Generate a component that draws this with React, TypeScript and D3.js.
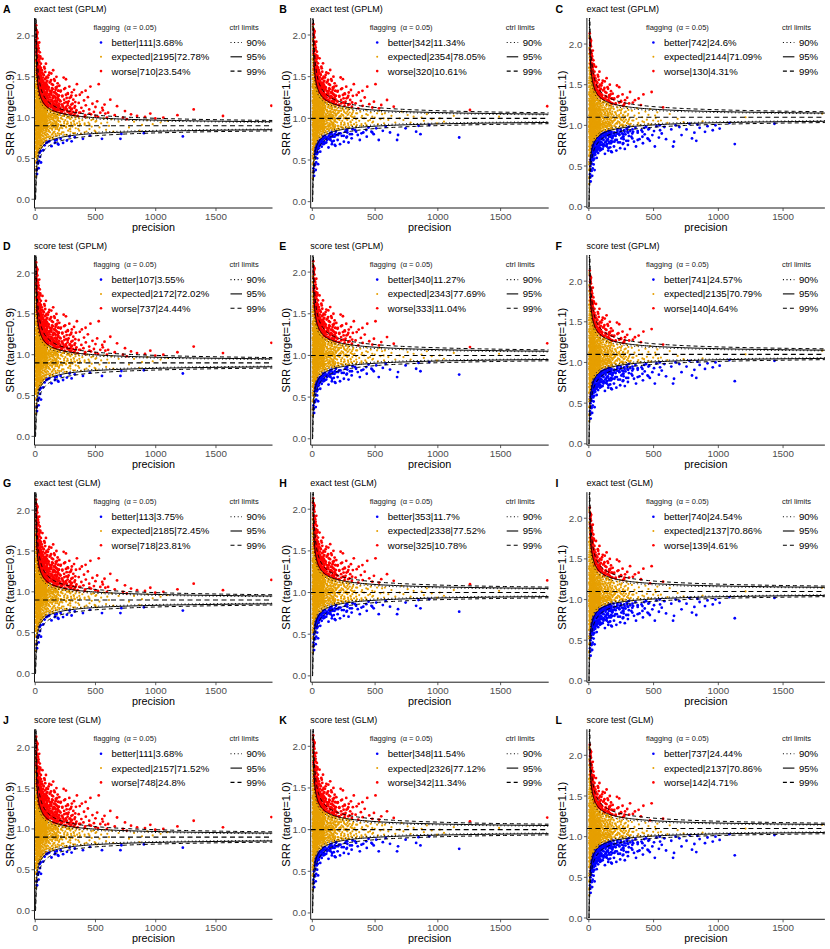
import React from "react";
import * as d3 from "d3";

const W = 830;
const H = 949;
const FONT = "'Liberation Sans', Arial, Helvetica, sans-serif";

// ---------- labels / panel meta ----------
const panelLetters = ["A", "B", "C", "D", "E", "F", "G", "H", "I", "J", "K", "L"];
const rowTitles = ["exact test (GPLM)", "score test (GPLM)", "exact test (GLM)", "score test (GLM)"];
const targets = [0.9, 1.0, 1.1];
const yTitles = ["SRR (target=0.9)", "SRR (target=1.0)", "SRR (target=1.1)"];
const precisionScale = [1, 0.955, 0.92];
const xDomains = [[-6, 1969], [-13, 1883], [-15, 1823]];
const yDomains = [[-0.107, 2.22], [-0.076, 2.204], [-0.016, 2.32]];
const xTicks = [0, 500, 1000, 1500];
const yTicks = [0, 0.5, 1, 1.5, 2];
const rowDispersion = [1.1, 1.1, 1.08, 1.08];

const legendBetter = [
  "better|111|3.68%", "better|342|11.34%", "better|742|24.6%",
  "better|107|3.55%", "better|340|11.27%", "better|741|24.57%",
  "better|113|3.75%", "better|353|11.7%", "better|740|24.54%",
  "better|111|3.68%", "better|348|11.54%", "better|737|24.44%",
];
const legendExpected = [
  "expected|2195|72.78%", "expected|2354|78.05%", "expected|2144|71.09%",
  "expected|2172|72.02%", "expected|2343|77.69%", "expected|2135|70.79%",
  "expected|2185|72.45%", "expected|2338|77.52%", "expected|2137|70.86%",
  "expected|2157|71.52%", "expected|2326|77.12%", "expected|2137|70.86%",
];
const legendWorse = [
  "worse|710|23.54%", "worse|320|10.61%", "worse|130|4.31%",
  "worse|737|24.44%", "worse|333|11.04%", "worse|140|4.64%",
  "worse|718|23.81%", "worse|325|10.78%", "worse|139|4.61%",
  "worse|748|24.8%", "worse|342|11.34%", "worse|142|4.71%",
];
const ctrlLabels = ["90%", "95%", "99%"];
const ctrlZ = [1.645, 1.96, 2.576];

// ---------- data: precision (target 0.9 scale) and SRR ----------
const precisionUnder20: [number, number[]][] = [
  [1.5, [0.35, 0.98, 1.52]],
  [2, [0.45, 1.38, 0.92, 1.71]],
  [2.5, [0.74, 1.21]],
  [2.8, [0.55, 1.04, 1.47, 1.88]],
  [3, [0.63, 1.12, 1.55, 0.28, 0.99]],
  [3.5, [1.33, 0.86]],
  [3.8, [0.7, 1.2, 0.95, 1.76]],
  [4, [0.81, 1.41, 1.95, 0.52, 1.08]],
  [4.5, [0.62, 1.0, 1.3, 1.58, 2.1]],
  [5, [0.69, 1.26, 0.93, 1.67, 0.37, 1.18]],
  [5.5, [0.52, 1.05, 1.4]],
  [5.8, [0.79, 1.13, 0.45, 1.7]],
  [6, [1.02, 0.58, 1.49, 2.08, 0.84, 1.31]],
  [6.5, [0.9, 1.63]],
  [6.8, [0.66, 1.07, 1.38, 1.95]],
  [7, [0.76, 1.15, 1.83, 0.47, 0.98, 1.6]],
  [7.5, [1.25, 0.64, 1.92]],
  [7.8, [0.85, 1.19, 0.55, 1.52]],
  [8, [1.22, 0.89, 0.62, 1.44, 2.13, 1.05]],
  [8.5, [0.78, 1.37]],
  [8.8, [0.73, 1.01, 1.29, 1.86]],
  [9, [0.95, 1.36, 0.71, 1.73, 1.1, 0.53]],
  [9.5, [1.16, 0.88, 1.58]],
  [9.8, [0.64, 0.94, 1.22, 1.65, 2.07]],
  [10, [1.28, 0.83, 1.52, 1.0, 0.4, 1.93]],
  [10.5, [0.57, 1.11, 1.81]],
  [10.8, [0.8, 1.08, 1.36, 1.59]],
  [11, [0.9, 1.19, 0.66, 1.41, 1.06, 1.78]],
  [11.5, [0.97, 1.48]],
  [11.8, [0.69, 0.99, 1.26, 1.7, 1.99]],
  [12, [1.13, 0.77, 1.6, 0.95, 2.0, 0.36]],
  [12.5, [0.82, 1.29]],
  [12.8, [0.74, 1.04, 1.16, 1.53]],
  [13, [0.86, 1.24, 1.03, 1.47, 0.6, 1.69]],
  [13.5, [1.18, 0.93, 2.02]],
  [13.8, [0.65, 0.91, 1.21, 1.42, 1.8]],
  [14, [1.09, 0.72, 1.33, 0.97, 1.88, 0.5]],
  [14.5, [0.7, 1.55]],
  [14.8, [0.83, 1.02, 1.3, 1.62]],
  [15, [1.17, 0.88, 1.56, 1.01, 0.31, 1.38]],
  [15.5, [1.06, 1.26]],
  [15.8, [0.58, 0.96, 1.14, 1.48, 1.91]],
  [16, [0.94, 1.27, 0.68, 1.12, 1.75, 2.05]],
  [16.5, [0.79, 1.36]],
  [16.8, [0.75, 1.09, 1.33, 1.58]],
  [17, [1.04, 0.81, 1.45, 0.56, 1.2, 1.64]],
  [17.5, [0.99, 1.9]],
  [17.8, [0.67, 0.9, 1.17, 1.41, 1.77]],
  [18, [0.92, 1.35, 1.07, 0.74, 1.97, 1.52]],
  [18.5, [0.61, 1.14]],
  [18.8, [0.8, 1.03, 1.25, 1.6, 2.04]],
  [19, [1.15, 0.86, 1.3, 0.45, 1.01, 1.84]],
  [19.5, [1.24, 0.89]],
  [19.8, [0.71, 0.95, 1.12, 1.37, 1.55]],
  [20, [0.98, 1.23, 0.63, 1.42, 1.09, 1.71]],
];

const groups20to60: [number, number[]][] = [
  [21.5, [0.74, 0.98, 1.19, 1.5, 1.66]],
  [22.5, [0.57, 0.85, 1.03, 1.27, 1.56]],
  [23.5, [0.69, 0.92, 1.08, 1.33, 1.74]],
  [25.5, [0.8, 1.0, 1.23, 1.41, 1.59]],
  [26.5, [0.6, 0.83, 1.06, 1.22, 1.68]],
  [27.5, [0.62, 0.87, 1.12, 1.29, 1.85]],
  [29.5, [0.77, 0.97, 1.16, 1.38, 1.62]],
  [30.5, [0.64, 0.89, 1.02, 1.18, 1.51]],
  [31.5, [0.7, 0.9, 1.07, 1.26, 1.47]],
  [33.5, [0.82, 1.03, 1.2, 1.4, 1.71]],
  [34.5, [0.59, 0.86, 1.0, 1.24, 1.45]],
  [35.5, [0.66, 0.94, 1.13, 1.32, 1.54]],
  [37.5, [0.78, 0.99, 1.18, 1.35, 1.63]],
  [38.5, [0.67, 0.9, 1.05, 1.21, 1.58]],
  [39.5, [0.72, 0.91, 1.1, 1.28, 1.46]],
  [41.5, [0.81, 1.02, 1.22, 1.39, 1.75]],
  [42.5, [0.63, 0.84, 0.98, 1.17, 1.41]],
  [43.5, [0.68, 0.95, 1.15, 1.3, 1.52]],
  [45.5, [0.76, 0.93, 1.06, 1.27, 1.44]],
  [46.5, [0.69, 0.88, 1.04, 1.23, 1.5]],
  [47.5, [0.84, 1.0, 1.19, 1.34, 1.61]],
  [49.5, [0.73, 0.88, 1.11, 1.25, 1.48]],
  [51.5, [0.66, 0.86, 0.99, 1.15, 1.37]],
  [52.5, [0.79, 0.97, 1.14, 1.3, 1.43]],
  [55.5, [0.72, 0.9, 1.05, 1.24, 1.39]],
  [57.5, [0.7, 0.91, 1.03, 1.2, 1.46]],
  [58.5, [0.83, 1.01, 1.17, 1.33, 1.55]],
];

const groups60to500: [number, number[]][] = [
  [62.5, [0.86, 1.08, 1.26, 1.45]],
  [64.5, [0.68, 0.85, 0.97, 1.13, 1.34]],
  [66.5, [0.77, 0.99, 1.2, 1.37]],
  [70.5, [0.9, 1.13, 1.31, 1.52]],
  [72.5, [0.73, 0.9, 1.02, 1.18, 1.4]],
  [74.5, [0.81, 1.04, 1.23, 1.41]],
  [78.5, [0.88, 1.1, 1.28, 1.6]],
  [80.5, [0.71, 0.87, 0.99, 1.12, 1.31]],
  [82.5, [0.79, 0.98, 1.19, 1.36]],
  [86.5, [0.92, 1.12, 1.3, 1.48]],
  [88.5, [0.75, 0.92, 1.04, 1.16, 1.42]],
  [90.5, [0.84, 1.03, 1.21, 1.39]],
  [94.5, [0.89, 1.09, 1.26, 1.44]],
  [96.5, [0.72, 0.86, 0.96, 1.09, 1.3]],
  [98.5, [0.8, 1.0, 1.17, 1.34]],
  [105.5, [0.9, 1.12, 1.27, 1.49]],
  [108.5, [0.76, 0.89, 1.01, 1.14, 1.35]],
  [112.5, [0.83, 1.05, 1.22, 1.37]],
  [119.5, [0.94, 1.1, 1.25, 1.43]],
  [122.5, [0.74, 0.87, 0.98, 1.1, 1.29]],
  [126.5, [0.87, 1.03, 1.19, 1.32]],
  [133.5, [0.91, 1.14, 1.28, 1.54]],
  [137.5, [0.79, 0.9, 1.03, 1.15, 1.33]],
  [140.5, [0.85, 1.0, 1.2, 1.36]],
  [147.5, [0.93, 1.08, 1.24, 1.4]],
  [152.5, [0.77, 0.88, 0.99, 1.08, 1.27]],
  [154.5, [0.82, 1.02, 1.17, 1.31]],
  [161.5, [0.95, 1.11, 1.26, 1.45]],
  [167.5, [0.8, 0.91, 1.02, 1.13, 1.3]],
  [168.5, [0.88, 1.04, 1.21, 1.34]],
  [175.5, [0.92, 1.07, 1.18, 1.29]],
  [182.5, [0.86, 1.0, 1.15, 1.38]],
  [185.5, [0.78, 0.89, 0.97, 1.1, 1.25]],
  [189.5, [0.9, 1.06, 1.23, 1.33]],
  [196.5, [0.84, 1.03, 1.14, 1.27]],
  [210, [0.91, 1.06, 1.2, 1.32]],
  [215, [0.8, 0.88, 0.99, 1.09]],
  [225, [0.87, 1.02, 1.16, 1.26]],
  [235, [0.82, 0.9, 1.03, 1.12]],
  [240, [0.95, 1.09, 1.22, 1.35]],
  [255, [0.89, 1.04, 1.13, 1.28]],
  [262, [0.79, 0.92, 1.0, 1.1]],
  [270, [0.93, 1.07, 1.18, 1.3]],
  [285, [0.86, 1.01, 1.12, 1.24]],
  [292, [0.83, 0.89, 0.98, 1.08]],
  [300, [0.92, 1.05, 1.16, 1.27]],
  [330, [0.81, 0.91, 1.02, 1.14]],
  [365, [0.84, 0.9, 0.99, 1.06]],
  [410, [0.82, 0.93, 1.01]],
  [450, [0.86, 0.92, 1.05]],
  [500, [0.83, 0.95, 1.02]],
];

const points20to50: [number, number][] = [
  [21,1.12],[21,0.78],[21,1.45],[21,0.93],[21,1.71],[22,1.02],[22,0.61],[22,1.28],[22,0.88],[22,1.58],
  [23,1.19],[23,0.97],[23,0.44],[23,1.36],[23,0.83],[24,1.07],[24,1.88],[24,0.72],[24,1.24],[24,0.95],
  [25,1.31],[25,0.86],[25,1.11],[25,0.53],[25,1.49],[26,0.99],[26,1.18],[26,0.76],[26,1.64],[26,1.04],
  [27,0.91],[27,1.39],[27,0.67],[27,1.15],[27,1.82],[28,1.06],[28,0.81],[28,1.27],[28,0.38],[28,1.53],
  [29,0.94],[29,1.21],[29,1.01],[29,0.71],[29,1.44],[30,1.09],[30,0.87],[30,1.33],[30,0.58],[30,1.76],
  [31,1.0],[31,1.16],[31,0.79],[31,1.41],[31,0.92],[32,1.25],[32,0.69],[32,1.05],[32,1.62],[32,0.47],
  [33,0.96],[33,1.13],[33,1.35],[33,0.84],[33,1.92],[34,1.03],[34,0.74],[34,1.22],[34,1.5],[34,0.89],
  [35,1.1],[35,0.98],[35,0.63],[35,1.3],[35,1.68],[36,0.93],[36,1.17],[36,0.8],[36,1.43],[36,1.02],
  [37,1.26],[37,0.57],[37,1.06],[37,0.9],[37,1.57],[38,0.99],[38,1.14],[38,0.76],[38,1.37],[38,1.8],
  [39,1.08],[39,0.85],[39,1.23],[39,0.66],[39,1.47],[40,1.01],[40,0.92],[40,1.32],[40,0.52],[40,1.15],
  [41,1.19],[41,0.78],[41,1.04],[41,1.6],[41,0.95],[42,0.88],[42,1.28],[42,1.07],[42,0.7],[42,1.39],
  [43,1.12],[43,0.97],[43,1.73],[43,0.82],[43,1.2],[44,1.0],[44,0.64],[44,1.34],[44,0.91],[44,1.52],
  [45,1.09],[45,0.86],[45,1.24],[45,1.45],[45,0.75],[46,0.96],[46,1.16],[46,0.59],[46,1.31],[46,1.05],
  [47,1.21],[47,0.89],[47,1.66],[47,0.99],[47,0.72],[48,1.11],[48,1.37],[48,0.83],[48,1.03],[48,0.45],
  [49,0.94],[49,1.27],[49,1.08],[49,0.79],[49,1.55],[50,1.18],[50,0.9],[50,1.42],[50,0.68],[50,1.02],
];

const points50to100: [number, number][] = [
  [51,1.05],[51,0.83],[51,1.29],[52,0.97],[52,1.44],[52,0.71],[53,1.13],[53,0.9],[53,1.21],[54,1.01],
  [54,0.64],[54,1.36],[55,1.08],[55,0.94],[55,1.58],[56,0.87],[56,1.17],[56,1.03],[57,1.25],[57,0.78],
  [57,0.99],[58,1.11],[58,1.4],[58,0.92],[59,0.96],[59,1.06],[59,0.68],[60,1.19],[60,1.02],[60,1.72],
  [61,0.89],[61,1.14],[61,1.31],[62,1.0],[62,0.81],[62,1.22],[63,1.09],[63,0.95],[63,1.49],[64,0.74],
  [64,1.04],[64,1.16],[65,1.27],[65,0.91],[65,1.07],[66,0.98],[66,1.35],[66,0.6],[67,1.12],[67,0.86],
  [67,1.02],[68,1.2],[68,0.97],[68,1.53],[69,0.93],[69,1.1],[69,0.77],[70,1.05],[70,1.28],[70,0.88],
  [71,1.15],[71,0.99],[71,1.43],[72,0.84],[72,1.03],[72,1.24],[73,1.08],[73,0.7],[73,1.33],[74,0.95],
  [74,1.18],[74,1.01],[75,1.62],[75,0.9],[75,1.11],[76,1.04],[76,0.8],[76,1.26],[77,0.97],[77,1.13],
  [77,1.38],[78,1.06],[78,0.66],[78,0.94],[79,1.21],[79,1.0],[79,0.87],[80,1.09],[80,1.47],[80,0.92],
  [81,1.02],[81,0.75],[81,1.17],[82,1.3],[82,0.96],[82,1.07],[83,0.89],[83,1.14],[83,1.56],[84,1.0],
  [84,0.82],[84,1.23],[85,1.11],[85,0.93],[85,1.35],[86,0.98],[86,1.05],[86,0.72],[87,1.19],[87,1.42],
  [87,0.9],[88,1.03],[88,0.85],[88,1.27],[89,1.08],[89,0.97],[89,1.66],[90,0.94],[90,1.15],[90,0.78],
  [91,1.01],[91,1.22],[91,1.37],[92,0.88],[92,1.06],[92,1.12],[93,0.99],[93,0.69],[93,1.29],[94,1.1],
  [94,0.95],[94,1.5],[95,1.04],[95,0.83],[95,1.18],[96,0.91],[96,1.24],[96,1.02],[97,1.13],[97,0.76],
  [97,1.4],[98,0.97],[98,1.07],[98,1.32],[99,1.16],[99,0.87],[99,1.01],[100,1.2],[100,0.93],[100,1.45],
];

const points100to200: [number, number][] = [
  [101,1.07],[102,0.88],[103,1.24],[104,0.96],[105,1.38],[106,1.02],[107,0.79],[108,1.15],[109,0.93],[110,1.11],
  [111,1.52],[112,0.99],[113,0.84],[114,1.19],[115,1.04],[116,0.71],[117,1.28],[118,0.97],[119,1.09],[120,1.33],
  [121,0.9],[122,1.01],[123,1.17],[124,0.82],[125,1.06],[126,1.44],[127,0.95],[128,1.13],[129,0.76],[130,1.22],
  [131,1.0],[132,0.92],[133,1.3],[134,1.08],[135,0.65],[136,1.16],[137,0.98],[138,1.41],[139,0.87],[140,1.05],
  [141,1.21],[142,0.94],[143,1.12],[144,0.8],[145,1.35],[146,1.03],[147,0.91],[148,1.18],[149,1.58],[150,0.97],
  [151,1.09],[152,0.74],[153,1.26],[154,1.0],[155,0.89],[156,1.14],[157,1.47],[158,0.96],[159,1.07],[160,0.83],
  [161,1.2],[162,1.02],[163,0.69],[164,1.31],[165,0.93],[166,1.11],[167,1.04],[168,0.86],[169,1.24],[170,0.99],
  [171,1.37],[172,0.78],[173,1.08],[174,0.95],[175,1.16],[176,1.5],[177,0.9],[178,1.03],[179,0.73],[180,1.19],
  [181,1.01],[182,0.88],[183,1.28],[184,1.06],[185,0.97],[186,1.42],[187,0.81],[188,1.13],[189,1.0],[190,0.92],
  [191,1.23],[192,1.09],[193,0.67],[194,1.33],[195,0.96],[196,1.05],[197,1.17],[198,0.85],[199,1.1],[200,1.39],
  [104,1.13],[108,0.85],[113,1.02],[118,1.29],[122,0.77],[127,1.08],[131,1.46],[136,0.9],[141,0.98],[146,1.25],
  [151,0.82],[155,1.05],[160,1.15],[165,0.72],[169,1.01],[174,1.36],[178,0.94],[183,1.1],[187,0.68],[192,0.99],
  [196,1.27],[103,0.7],[117,1.55],[129,1.01],[143,0.75],[157,1.12],[171,0.93],[185,1.21],[199,0.8],[112,1.19],
];

const points200to350: [number, number][] = [
  [201,1.04],[203,0.87],[205,1.21],[207,0.95],[209,1.12],[211,0.74],[213,1.33],[215,1.0],[217,0.91],[219,1.16],
  [221,1.07],[223,0.82],[225,1.27],[227,0.98],[229,1.09],[231,0.69],[236,1.49],[238,1.02],[240,0.93],[242,1.18],
  [244,1.05],[246,0.79],[248,1.36],[250,0.97],[252,1.11],[255,1.47],[257,0.88],[259,1.03],[261,1.24],[263,0.72],
  [265,1.08],[267,0.95],[269,1.15],[271,1.29],[273,0.84],[275,1.01],[277,1.2],[279,0.9],[281,1.06],[283,1.38],
  [285,0.77],[287,0.99],[289,1.13],[291,0.86],[293,1.04],[295,1.25],[297,0.94],[299,1.1],[302,0.71],[304,1.31],
  [306,1.0],[308,0.89],[310,1.17],[312,1.07],[314,0.81],[316,1.22],[318,0.96],[320,1.03],[322,1.34],[324,0.92],
  [326,1.12],[328,0.76],[330,1.05],[332,1.19],[334,0.98],[336,0.87],[338,1.27],[340,1.01],[342,1.09],[346,1.41],
  [348,0.93],[212,1.06],[228,1.14],[243,0.9],[258,1.19],[274,1.0],[289,0.78],[305,1.11],[321,0.95],[337,1.07],
];

const points350to600: [number, number][] = [
  [352,1.02],[357,0.86],[361,1.18],[366,0.95],[370,1.28],[374,1.06],[379,0.8],[383,1.12],[387,1.31],[391,0.97],
  [396,0.74],[400,1.08],[405,1.21],[410,0.91],[415,1.03],[420,1.15],[425,0.83],[431,1.0],[437,1.25],[442,0.94],
  [448,1.1],[454,0.78],[458,1.38],[463,1.04],[469,0.89],[475,1.17],[481,0.98],[487,1.07],[493,0.84],[500,1.13],
  [507,0.96],[514,1.2],[521,1.01],[527,1.41],[533,0.88],[540,1.06],[547,0.93],[554,0.74],[561,1.09],[568,0.99],
  [575,1.16],[582,1.05],[588,0.85],[595,1.0],[372,0.92],[418,1.33],[466,0.97],[512,0.81],[556,1.12],[598,0.94],
];

const pointsOver600: [number, number][] = [
  [605,1.06],[612,0.9],[623,1.22],[634,0.98],[648,0.83],[660,1.03],[679,1.14],[692,0.95],[707,0.74],[715,0.8],
  [728,1.0],[745,1.08],[760,0.98],[778,0.88],[795,1.04],[820,0.95],[845,1.02],[866,0.84],[886,0.91],[902,0.81],
  [911,1.01],[930,0.97],[955,1.05],[975,0.92],[996,0.99],[1040,0.94],[1063,1.0],[1098,0.96],[1180,1.03],[1225,0.77],
  [1315,1.1],[1558,1.02],[1960,1.145],
];

const expand = (g: [number, number[]][]) => g.flatMap(([p, vals]) => vals.map((v) => [p, v] as [number, number]));

const allPoints: [number, number][] = [
  ...expand(precisionUnder20),
  ...points20to50,
  ...expand(groups20to60),
  ...points50to100,
  ...expand(groups60to500),
  ...points100to200,
  ...points200to350,
  ...points350to600,
  ...pointsOver600,
];

// ---------- styles ----------
const COLORS = { better: "#0000FF", expected: "#E69F00", worse: "#FF0000" };
const CTRL_DASH = ["1,2.6", "", "4,3"];
const colX = [0, 276.2, 552.4];
const rowY = [0, 237.1, 474.2, 711.3];
const PL = 34.5, PR = 272.5, PT = 18, PB = 208;

function limit(p: number, t: number, z: number, k: number, sign: number) {
  const s = Math.sqrt(t) + (sign * z * k) / (2 * Math.sqrt(t * p));
  if (s < 0) return 0;
  return s * s;
}

function Panel({ row, col }: { row: number; col: number }) {
  const idx = row * 3 + col;
  const t = targets[col];
  const k = rowDispersion[row];
  const x = d3.scaleLinear().domain(xDomains[col]).range([PL, PR]);
  const y = d3.scaleLinear().domain(yDomains[col]).range([PB, PT]);
  const pts = allPoints.map(([p, s]) => {
    const pp = p * precisionScale[col];
    const up = limit(pp, t, 1.96, k, 1);
    const lo = limit(pp, t, 1.96, k, -1);
    const cls = s > up ? "worse" : s < lo ? "better" : "expected";
    return { p: pp, s, cls };
  });
  const pmax = xDomains[col][1];
  const grid = d3.range(0, 260).map((i) => 0.25 * Math.pow(pmax / 0.25, i / 259));
  const line = d3
    .line<number[]>()
    .x((d) => x(d[0]))
    .y((d) => y(d[1]));
  const clipId = `clip-${idx}`;
  const expected = pts.filter((d) => d.cls === "expected");
  const flagged = pts.filter((d) => d.cls !== "expected");
  return (
    <g transform={`translate(${colX[col]},${rowY[row]})`}>
      <defs>
        <clipPath id={clipId}>
          <rect x={PL} y={PT} width={PR - PL} height={PB - PT} />
        </clipPath>
      </defs>
      <g clipPath={`url(#${clipId})`}>
        {expected.map((d, i) => (
          <circle key={"e" + i} cx={x(d.p)} cy={y(d.s)} r={1.1} fill={COLORS.expected} />
        ))}
        {flagged.map((d, i) => (
          <circle key={"f" + i} cx={x(d.p)} cy={y(d.s)} r={1.4} fill={(COLORS as any)[d.cls]} />
        ))}
        {ctrlZ.map((z, zi) =>
          [1, -1].map((sg) => (
            <path
              key={`l${zi}${sg}`}
              d={line(grid.map((p) => [p, limit(p, t, z, k, sg)])) || ""}
              fill="none"
              stroke="#000"
              strokeWidth={1}
              strokeDasharray={CTRL_DASH[zi]}
            />
          ))
        )}
        <line x1={PL} x2={PR} y1={y(t)} y2={y(t)} stroke="#000" strokeWidth={1.1} strokeDasharray="5,3.5" />
      </g>
      {/* axes */}
      <line x1={PL} x2={PL} y1={PT} y2={PB} stroke="#000" strokeWidth={0.9} />
      <line x1={PL} x2={PR} y1={PB} y2={PB} stroke="#000" strokeWidth={0.9} />
      {yTicks.map((v) => (
        <g key={"yt" + v}>
          <line x1={PL - 3} x2={PL} y1={y(v)} y2={y(v)} stroke="#333" strokeWidth={0.8} />
          <text x={PL - 4.5} y={y(v)} dy="0.36em" textAnchor="end" fontSize={9.8} fill="#4D4D4D">
            {v.toFixed(1)}
          </text>
        </g>
      ))}
      {xTicks.map((v) => (
        <g key={"xt" + v}>
          <line x1={x(v)} x2={x(v)} y1={PB} y2={PB + 3} stroke="#333" strokeWidth={0.8} />
          <text x={x(v)} y={PB + 11.5} textAnchor="middle" fontSize={9.8} fill="#4D4D4D">
            {v}
          </text>
        </g>
      ))}
      <text x={(PL + PR) / 2} y={230.5} textAnchor="middle" fontSize={10.8} fill="#000">
        precision
      </text>
      <text
        transform={`translate(10,${(PT + PB) / 2}) rotate(-90)`}
        textAnchor="middle"
        dy="0.35em"
        fontSize={11.2}
        fill="#000"
      >
        {yTitles[col]}
      </text>
      {/* titles */}
      <text x={3} y={12.5} fontSize={10.5} fontWeight="bold" fill="#000">
        {panelLetters[idx]}
      </text>
      <text x={34} y={12} fontSize={9} fill="#000">
        {rowTitles[row]}
      </text>
      {/* legends */}
      <text x={93.5} y={29.5} fontSize={7.5} fill="#1A1A1A" xmlSpace="preserve">
        {"flagging  (α = 0.05)"}
      </text>
      {[legendBetter[idx], legendExpected[idx], legendWorse[idx]].map((lab, i) => {
        const cy = 42.5 + i * 14.3;
        const c = [COLORS.better, COLORS.expected, COLORS.worse][i];
        return (
          <g key={"lg" + i}>
            <circle cx={101} cy={cy} r={i === 1 ? 1.0 : 1.3} fill={c} />
            <text x={111.5} y={cy} dy="0.36em" fontSize={9.6} fill="#000">
              {lab}
            </text>
          </g>
        );
      })}
      <text x={229.5} y={29.5} fontSize={7.5} fill="#1A1A1A">
        ctrl limits
      </text>
      {ctrlLabels.map((lab, i) => {
        const cy = 42.5 + i * 14.3;
        return (
          <g key={"cl" + i}>
            <line x1={230.5} x2={242} y1={cy} y2={cy} stroke="#000" strokeWidth={1.1} strokeDasharray={CTRL_DASH[i]} />
            <text x={246.5} y={cy} dy="0.36em" fontSize={9.6} fill="#000">
              {lab}
            </text>
          </g>
        );
      })}
    </g>
  );
}

export default function App() {
  const cells: { row: number; col: number }[] = [];
  for (let r = 0; r < 4; r++) for (let c = 0; c < 3; c++) cells.push({ row: r, col: c });
  return (
    <svg
      width={W}
      height={H}
      viewBox={`0 0 ${W} ${H}`}
      style={{ position: "absolute", left: 0, top: 0, background: "#fff" }}
      fontFamily={FONT}
    >
      <rect width={W} height={H} fill="#fff" />
      {cells.map((c) => (
        <Panel key={`${c.row}-${c.col}`} row={c.row} col={c.col} />
      ))}
    </svg>
  );
}
